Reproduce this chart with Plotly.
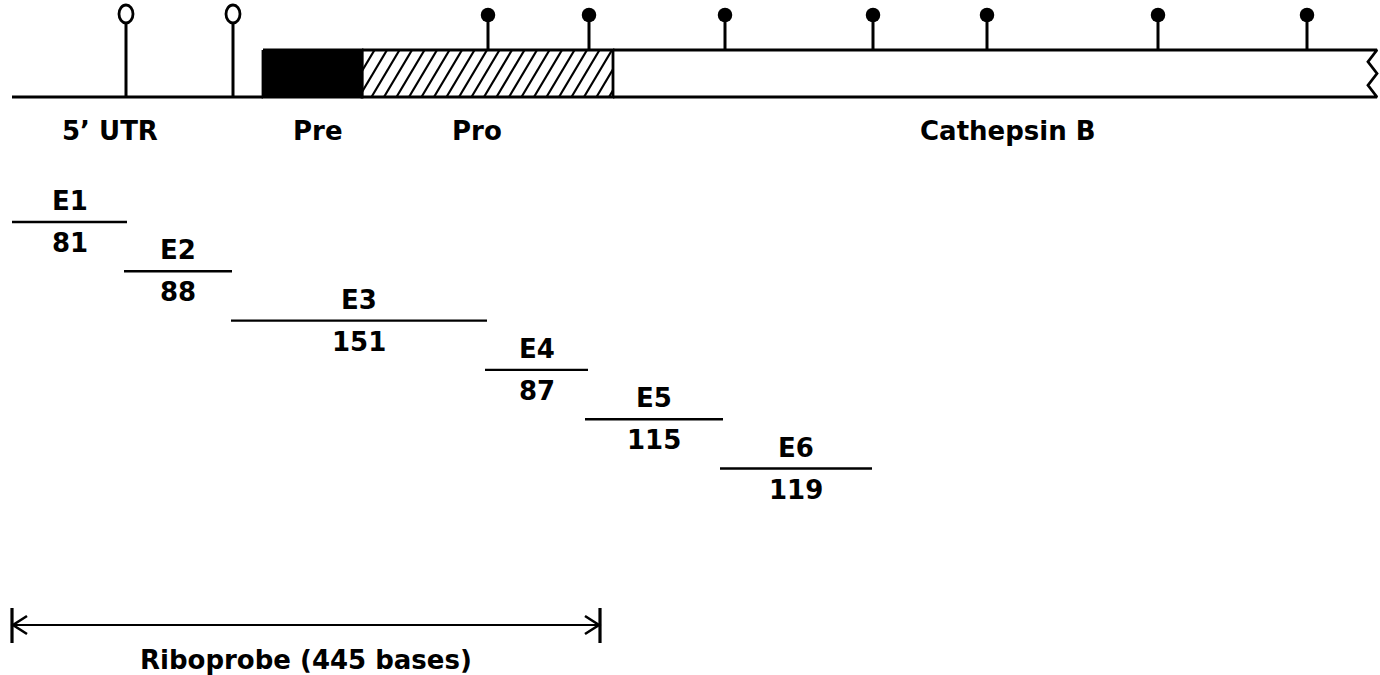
import plotly.graph_objects as go

# ---------------- data ----------------
region_names = ["5’ UTR", "Pre", "Pro", "Cathepsin B"]
region_start = [12, 263, 362, 613]
region_end = [263, 362, 613, 1377]
region_label_x = [110, 318, 477, 1008]

open_sites = [126, 233]
filled_sites = [488, 589, 725, 873, 987, 1158, 1307]

exon_names = ["E1", "E2", "E3", "E4", "E5", "E6"]
exon_lengths = [81, 88, 151, 87, 115, 119]
exon_start = [12, 124, 231, 485, 585, 720]
exon_end = [127, 232, 487, 588, 723, 872]

probe_start = 12
probe_end = 600
probe_label = "Riboprobe (445 bases)"

# ---------------- layout constants ----------------
W, H = 1380, 675
BOX_TOP, BOX_BOT = 50, 97
FONT = dict(family="DejaVu Sans, Arial", size=26, color="black", weight="bold")
LBL_Y = 131
EXON_Y0, EXON_STEP, EXON_OFF = 222, 49.3, 21
PROBE_Y, PROBE_LBL_Y = 625, 660
HATCH_SPACING, HATCH_DX = 12.5, 28

fig = go.Figure()

def seg_trace(xs, ys, width=2.0):
    fig.add_trace(go.Scatter(x=xs, y=ys, mode="lines", line=dict(color="black", width=width),
                             hoverinfo="skip", showlegend=False))

# baseline (5' UTR)
seg_trace([region_start[0], region_end[0]], [BOX_BOT, BOX_BOT], 2.8)

# Pre (black box)
x0, x1 = region_start[1], region_end[1]
fig.add_trace(go.Scatter(x=[x0, x1, x1, x0, x0], y=[BOX_TOP, BOX_TOP, BOX_BOT, BOX_BOT, BOX_TOP],
                         mode="lines", fill="toself", fillcolor="black",
                         line=dict(color="black", width=2.8), hoverinfo="skip", showlegend=False))

# Pro (hatched box)
x0, x1 = region_start[2], region_end[2]
hx, hy = [], []
xb = x0 - HATCH_DX
while xb < x1:
    t0 = max(0.0, (x0 - xb) / HATCH_DX)
    t1 = min(1.0, (x1 - xb) / HATCH_DX)
    if t1 > t0:
        hx += [xb + HATCH_DX * t0, xb + HATCH_DX * t1, None]
        hy += [BOX_BOT - (BOX_BOT - BOX_TOP) * t0, BOX_BOT - (BOX_BOT - BOX_TOP) * t1, None]
    xb += HATCH_SPACING
seg_trace(hx, hy, 2.2)
seg_trace([x0, x1, x1, x0, x0], [BOX_TOP, BOX_TOP, BOX_BOT, BOX_BOT, BOX_TOP], 2.8)

# Cathepsin B (open box with broken end)
x0, x1 = region_start[3], region_end[3]
zz = 9
q = (BOX_BOT - BOX_TOP) / 4
seg_trace([x0, x1, x1 - zz, x1, x1 - zz, x1, x0],
          [BOX_TOP, BOX_TOP, BOX_TOP + q, BOX_TOP + 2 * q, BOX_TOP + 3 * q, BOX_BOT, BOX_BOT], 2.8)

# glycosylation sites: stems
sx, sy = [], []
for s in open_sites:
    sx += [s, s, None]; sy += [BOX_BOT, 23, None]
for s in filled_sites:
    sx += [s, s, None]; sy += [BOX_TOP, 20, None]
seg_trace(sx, sy, 3.0)
# filled heads
fig.add_trace(go.Scatter(x=filled_sites, y=[15] * len(filled_sites), mode="markers",
                         marker=dict(color="black", size=14.5, symbol="circle", line=dict(width=0)),
                         hoverinfo="skip", showlegend=False))
# open heads (ovals)
shapes = []
for s in open_sites:
    shapes.append(dict(type="circle", xref="x", yref="y", x0=s - 7, x1=s + 7, y0=5, y1=23,
                       line=dict(color="black", width=2.8), fillcolor="white"))

# region labels
ann = []
for name, lx in zip(region_names, region_label_x):
    ann.append(dict(x=lx, y=LBL_Y, text=name, showarrow=False, xref="x", yref="y",
                    xanchor="center", yanchor="middle", font=FONT))

# exons
ex, ey = [], []
for i, (n, L, s, e) in enumerate(zip(exon_names, exon_lengths, exon_start, exon_end)):
    y = EXON_Y0 + i * EXON_STEP
    ex += [s, e, None]; ey += [y, y, None]
    cx = (s + e) / 2
    ann.append(dict(x=cx, y=y - EXON_OFF, text=n, showarrow=False, xref="x", yref="y",
                    xanchor="center", yanchor="middle", font=FONT))
    ann.append(dict(x=cx, y=y + EXON_OFF, text=str(L), showarrow=False, xref="x", yref="y",
                    xanchor="center", yanchor="middle", font=FONT))
seg_trace(ex, ey, 2.4)

# riboprobe arrow
seg_trace([probe_start, probe_end], [PROBE_Y, PROBE_Y], 2.2)
seg_trace([probe_start, probe_start, None, probe_end, probe_end],
          [PROBE_Y - 17, PROBE_Y + 18, None, PROBE_Y - 17, PROBE_Y + 18], 3.2)
seg_trace([probe_start + 15, probe_start + 1, probe_start + 15, None,
           probe_end - 15, probe_end - 1, probe_end - 15],
          [PROBE_Y - 9, PROBE_Y, PROBE_Y + 9, None, PROBE_Y - 9, PROBE_Y, PROBE_Y + 9], 2.6)
ann.append(dict(x=(probe_start + probe_end) / 2, y=PROBE_LBL_Y, text=probe_label, showarrow=False,
                xref="x", yref="y", xanchor="center", yanchor="middle", font=FONT))

fig.update_layout(
    width=W, height=H, margin=dict(l=0, r=0, t=0, b=0),
    paper_bgcolor="white", plot_bgcolor="white",
    xaxis=dict(range=[0, W], visible=False, fixedrange=True),
    yaxis=dict(range=[H, 0], visible=False, fixedrange=True),
    shapes=shapes, annotations=ann, showlegend=False,
)

fig.write_html("out.html", config={"displayModeBar": False},
               post_script="document.body.style.margin='0';document.body.style.overflow='hidden';")
